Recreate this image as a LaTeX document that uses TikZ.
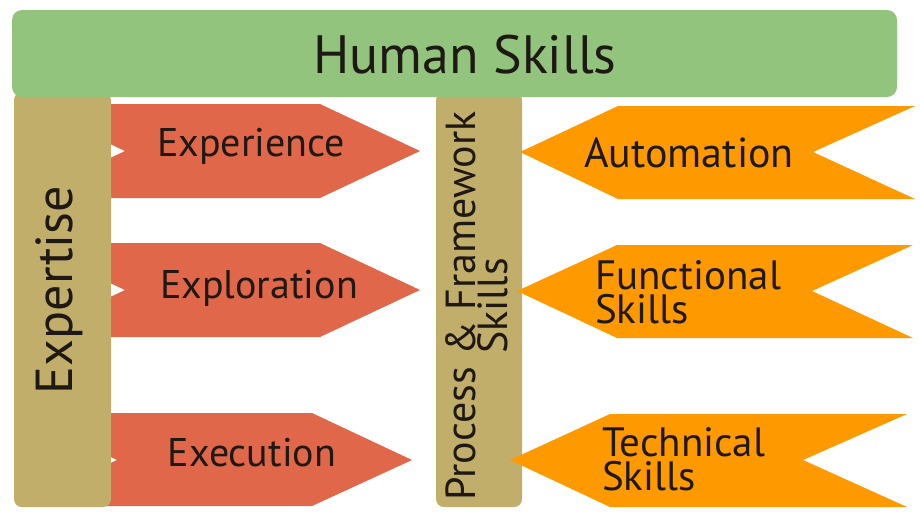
\documentclass[tikz,border=0pt]{standalone}
\usepackage{fontspec}
\setmainfont{PT Sans}
\definecolor{hsgreen}{RGB}{147,196,125}
\definecolor{boxtan}{RGB}{194,174,107}
\definecolor{arrred}{RGB}{224,103,74}
\definecolor{arrorange}{RGB}{255,153,0}
\definecolor{txtdark}{RGB}{30,25,20}
\newcommand\fsz[2]{\fontsize{#1}{#2}\selectfont}
\begin{document}
\begin{tikzpicture}[x=1pt,y=-1pt,
  redarrow/.style={fill=arrred},
  orgarrow/.style={fill=arrorange},
  tanbox/.style={fill=boxtan, rounded corners=8pt},
  greenbox/.style={fill=hsgreen, rounded corners=10pt},
  lbl/.style={text=txtdark, inner sep=0pt},
]
\useasboundingbox (0,0) rectangle (920,522);

% red chevrons
\fill[redarrow] (25,104) -- (320,104) -- (420,151) -- (320,198) -- (25,198) -- (125,151) -- cycle;
\fill[redarrow] (25,243) -- (320,243) -- (420,290) -- (320,337) -- (25,337) -- (125,290) -- cycle;
\fill[redarrow] (17,413) -- (312,413) -- (412,460) -- (312,506) -- (17,506) -- (117,460) -- cycle;

% tan boxes
\fill[tanbox] (14,92) rectangle (111,507);
\fill[tanbox] (436,92) rectangle (522,507);

% orange chevrons
\fill[orgarrow] (915,106) -- (618,106) -- (520,152) -- (618,199) -- (915,199) -- (813,152) -- cycle;
\fill[orgarrow] (913,245) -- (617,245) -- (517,291) -- (617,338) -- (913,338) -- (812,291) -- cycle;
\fill[orgarrow] (907,414) -- (610,414) -- (510,460) -- (610,507) -- (907,507) -- (803,460) -- cycle;

% green header
\fill[greenbox] (12,10) rectangle (897,97);

% labels
\node[lbl, font=\fsz{54}{60}, anchor=base] (hs) at (465,73) {Human Skills};
\node[lbl, rotate=90, anchor=base, font=\fsz{52}{60}] (expt) at (72,290) {Expertise};
\node[lbl, rotate=90, align=center, font=\fsz{42}{32}] (pfs) at (477,306) {Process \& Framework\\Skills};

\node[lbl, font=\fsz{40}{48}, anchor=base] (t1) at (251,156) {Experience};
\node[lbl, font=\fsz{40}{48}, anchor=base] (t2) at (259,298) {Exploration};
\node[lbl, font=\fsz{40}{48}, anchor=base] (t3) at (252,466) {Execution};

\node[lbl, font=\fsz{42}{48}, anchor=base] (t4) at (689,167) {Automation};
\node[lbl, font=\fsz{41}{34}, align=left, anchor=north west] (t5) at (595,260) {Functional\\Skills};
\node[lbl, font=\fsz{41}{34}, align=left, anchor=north west] (t6) at (602,427) {Technical\\Skills};
\end{tikzpicture}
\end{document}
